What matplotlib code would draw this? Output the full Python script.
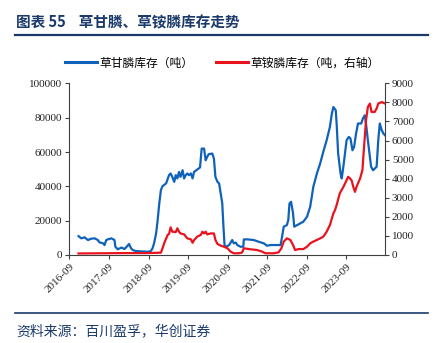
import matplotlib
matplotlib.use("Agg")
import matplotlib.pyplot as plt
from matplotlib.lines import Line2D
import pandas as pd

plt.rcParams['font.family'] = ['Noto Sans CJK SC', 'DejaVu Sans']

# ---- data ----
glyphosate_dates = [
    "2016-11-24", "2016-12-20", "2017-01-19", "2017-02-20", "2017-03-20", "2017-04-22",
    "2017-05-21", "2017-06-05", "2017-07-08", "2017-07-22", "2017-08-07", "2017-08-21",
    "2017-09-23", "2017-10-22", "2017-10-30", "2017-11-21", "2017-12-24", "2018-01-23",
    "2018-02-20", "2018-03-05", "2018-03-24", "2018-04-08", "2018-05-07", "2018-06-23",
    "2018-08-25", "2018-09-23", "2018-10-08", "2018-10-22", "2018-11-10", "2018-11-24",
    "2018-12-09", "2018-12-24", "2019-01-08", "2019-02-10", "2019-03-09", "2019-03-24",
    "2019-04-08", "2019-04-26", "2019-05-10", "2019-05-25", "2019-06-09", "2019-06-23",
    "2019-07-12", "2019-07-26", "2019-08-10", "2019-08-25", "2019-09-09", "2019-09-27",
    "2019-10-12", "2019-10-26", "2019-11-24", "2019-12-20", "2020-01-04", "2020-01-26",
    "2020-02-10", "2020-02-24", "2020-03-09", "2020-04-11", "2020-04-26", "2020-05-10",
    "2020-05-29", "2020-06-13", "2020-06-27", "2020-07-12", "2020-07-23", "2020-08-03",
    "2020-08-29", "2020-09-13", "2020-10-12", "2020-10-26", "2020-11-14", "2020-11-28",
    "2020-12-27", "2021-01-22", "2021-01-27", "2021-02-28", "2021-04-30", "2021-06-13",
    "2021-07-30", "2021-08-29", "2021-10-01", "2021-11-28", "2022-01-01", "2022-01-15",
    "2022-01-30", "2022-02-28", "2022-03-13", "2022-03-24", "2022-04-08", "2022-04-26",
    "2022-05-07", "2022-06-02", "2022-07-01", "2022-07-30", "2022-09-02", "2022-10-01",
    "2022-10-30", "2022-12-02", "2023-01-01", "2023-01-30", "2023-03-02", "2023-04-01",
    "2023-04-19", "2023-05-03", "2023-05-25", "2023-06-02", "2023-06-16", "2023-07-08",
    "2023-07-19", "2023-08-03", "2023-08-18", "2023-09-02", "2023-09-23", "2023-10-08",
    "2023-10-26", "2023-11-10", "2023-11-28", "2023-12-16", "2024-01-15", "2024-01-30",
    "2024-02-17", "2024-02-28", "2024-03-16", "2024-04-04", "2024-04-15", "2024-05-03",
    "2024-06-05", "2024-06-20", "2024-07-04", "2024-07-22", "2024-08-07", "2024-08-21",
]
glyphosate_tons = [
    11000, 9700, 10300, 8700, 9500, 9700,
    8700, 7400, 6800, 5800, 8700, 9100,
    9700, 8700, 4800, 3300, 4300, 3500,
    5400, 6400, 3900, 2900, 2300, 2100,
    1900, 2300, 3900, 6800, 12600, 20300,
    30000, 37800, 40100, 41700, 46500, 47500,
    45500, 42600, 46500, 44600, 48400, 45500,
    49400, 44600, 46500, 47500, 46500, 47500,
    44600, 48400, 49800, 51000, 62000, 62000,
    55200, 57200, 58700, 59100, 56200, 45500,
    42600, 41700, 35900, 30100, 16500, 4800,
    5200, 5800, 8700, 6800, 7200, 5800,
    4800, 4800, 9100, 9100, 8700, 7700,
    6800, 5400, 5800, 5800, 5800, 10700,
    16500, 17400, 20300, 30000, 31000, 24200,
    16500, 17400, 18400, 19400, 22300, 28100,
    39700, 47500, 53300, 60100, 66900, 74600,
    82400, 86200, 84300, 76600, 59100, 47500,
    44600, 51400, 59100, 66900, 68800, 67800,
    61000, 62900, 70700, 76600, 76600, 79500,
    81400, 76600, 66900, 57200, 51400, 49400,
    51400, 66900, 76600, 72700, 70700, 69800,
]

glufosinate_dates = [
    "2016-11-24", "2017-07-01", "2018-01-01", "2018-08-08", "2018-12-24", "2019-01-08",
    "2019-01-23", "2019-02-24", "2019-03-09", "2019-03-24", "2019-04-08", "2019-05-10",
    "2019-05-25", "2019-06-09", "2019-06-23", "2019-07-26", "2019-08-25", "2019-09-27",
    "2019-10-12", "2019-10-26", "2019-11-24", "2019-12-27", "2020-01-11", "2020-01-26",
    "2020-02-10", "2020-02-24", "2020-03-27", "2020-04-26", "2020-05-10", "2020-05-29",
    "2020-06-27", "2020-07-27", "2020-08-29", "2020-09-27", "2020-10-26", "2020-12-13",
    "2021-01-11", "2021-01-27", "2021-03-27", "2021-05-29", "2021-07-15", "2021-08-14",
    "2021-10-30", "2021-12-13", "2022-01-08", "2022-01-30", "2022-02-28", "2022-04-01",
    "2022-04-26", "2022-05-15", "2022-06-16", "2022-07-30", "2022-09-02", "2022-10-01",
    "2022-10-30", "2022-12-02", "2023-01-01", "2023-01-30", "2023-03-02", "2023-04-01",
    "2023-05-03", "2023-05-18", "2023-06-02", "2023-07-01", "2023-08-03", "2023-09-02",
    "2023-09-16", "2023-10-04", "2023-10-19", "2023-11-03", "2023-11-18", "2023-12-02",
    "2024-01-04", "2024-01-26", "2024-02-10", "2024-02-28", "2024-03-16", "2024-04-04",
    "2024-04-19", "2024-05-18", "2024-06-05", "2024-06-20", "2024-07-22", "2024-08-21",
]
glufosinate_tons = [
    80, 90, 100, 100, 120, 350,
    610, 1050, 1100, 1450, 1220, 1200,
    1400, 1220, 1130, 1080, 870, 820,
    640, 780, 960, 1050, 1220, 1130,
    1220, 1080, 1130, 1130, 790, 580,
    490, 435, 350, 175, 90, 90,
    130, 350, 300, 260, 175, 90,
    90, 140, 350, 700, 870, 790,
    520, 260, 310, 310, 435, 610,
    700, 790, 870, 960, 1220, 1570,
    2180, 2350, 2620, 3230, 3570, 3920,
    4100, 4010, 3900, 3570, 3310, 3570,
    4010, 4450, 5670, 7060, 7760, 7940,
    7500, 7500, 7680, 7940, 8020, 7940,
]

left_ticks = [0, 20000, 40000, 60000, 80000, 100000]
right_ticks = [0, 1000, 2000, 3000, 4000, 5000, 6000, 7000, 8000, 9000]
x_tick_labels = ["2016-09", "2017-09", "2018-09", "2019-09", "2020-09",
                 "2021-09", "2022-09", "2023-09"]

title_text = "图表 55    草甘膦、草铵膦库存走势"
source_text = "资料来源：百川盈孚，华创证券"
label_glyphosate = "草甘膦库存（吨）"
label_glufosinate = "草铵膦库存（吨，右轴）"

# ---- style ----
BLUE = "#0F62BA"
RED = "#E8131D"
NAVY = "#1B3A6B"
AXIS = "#404040"
SERIF = ["Liberation Serif", "DejaVu Serif"]

g_dates = pd.to_datetime(glyphosate_dates)
f_dates = pd.to_datetime(glufosinate_dates)
tick_dates = pd.to_datetime([s + "-01" for s in x_tick_labels])

fig = plt.figure(figsize=(4.42, 3.43), dpi=100)
ax = fig.add_axes([0.157, 0.2566, 0.714, 0.5004])
ax2 = ax.twinx()

ax.plot(g_dates, glyphosate_tons, color=BLUE, lw=1.6, solid_joinstyle="round", zorder=3)
ax2.plot(f_dates, glufosinate_tons, color=RED, lw=1.6, solid_joinstyle="round", zorder=3)

ax.set_xlim(pd.Timestamp("2016-09-01"), g_dates[-1])
ax.set_ylim(0, 100000)
ax2.set_ylim(0, 9000)

ax.set_yticks(left_ticks)
ax.set_yticklabels([str(v) for v in left_ticks], family=SERIF, fontsize=8, color="#222222")
ax2.set_yticks(right_ticks)
ax2.set_yticklabels([str(v) for v in right_ticks], family=SERIF, fontsize=8, color="#222222")
ax.set_xticks(tick_dates)
ax.set_xticklabels(x_tick_labels, family=SERIF, fontsize=8, color="#222222",
                   rotation=45, ha="right", rotation_mode="anchor")

for a in (ax, ax2):
    a.spines["top"].set_visible(False)
    for side in ("left", "right", "bottom"):
        a.spines[side].set_color(AXIS)
        a.spines[side].set_linewidth(0.8)
    a.tick_params(axis="both", direction="out", length=3, width=0.8, color=AXIS, pad=2)
ax.spines["right"].set_visible(False)
ax2.spines["left"].set_visible(False)
ax2.spines["bottom"].set_visible(False)

handles = [Line2D([], [], color=BLUE, lw=2.2), Line2D([], [], color=RED, lw=2.2)]
fig.legend(handles, [label_glyphosate, label_glufosinate], loc="center",
           bbox_to_anchor=(0.503, 0.816), ncol=2, frameon=False, fontsize=8.5,
           handlelength=2.7, handletextpad=0.25, columnspacing=1.9,
           borderpad=0, borderaxespad=0)

# header and footer
fig.text(0.036, 0.936, title_text, fontsize=10.5, fontweight="bold", color=NAVY,
         va="center", ha="left")
fig.add_artist(Line2D([0.034, 0.968], [0.898, 0.898], color=NAVY, lw=1.6))
fig.add_artist(Line2D([0.034, 0.968], [0.087, 0.087], color=NAVY, lw=1.2))
fig.text(0.036, 0.034, source_text, fontsize=10, color=NAVY, va="center", ha="left",
         style="italic")

fig.savefig("out.png", dpi=100, facecolor="white")
